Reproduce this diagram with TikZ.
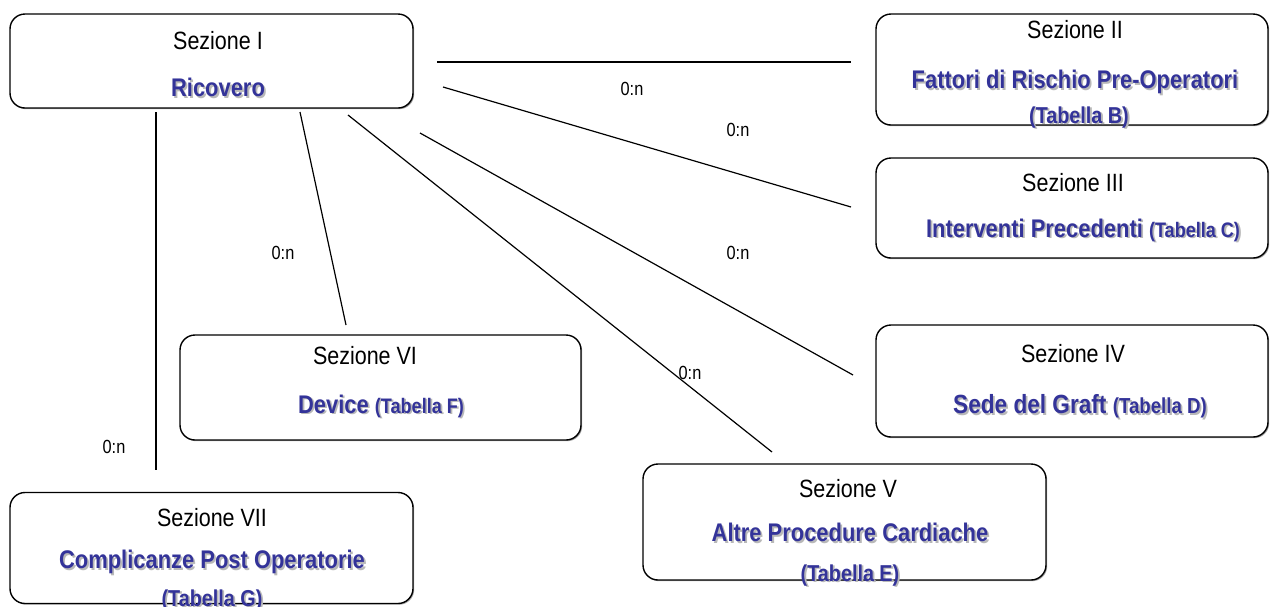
\documentclass[tikz,border=0pt]{standalone}
\usepackage{fontspec}
\usetikzlibrary{shadows}
\setmainfont[FakeStretch=0.86]{Liberation Sans}
\definecolor{titleblue}{HTML}{333399}
\newcommand{\shtxt}[1]{\makebox[0pt][l]{\hspace{1.8pt}\raisebox{-1.8pt}{\color{black!28}#1}}#1}
\newcommand{\smalltab}{\fontsize{21}{24}\selectfont}
\begin{document}
\begin{tikzpicture}[x=1pt,y=-1pt,
  secbox/.style={draw,fill=white,line width=1.4pt,rounded corners=15pt,minimum width=#1,inner sep=0pt,
     drop shadow={shadow xshift=1.2pt,shadow yshift=-1.2pt,fill=black,opacity=0.35}},
  sectitle/.style={font=\fontsize{25}{28}\selectfont,inner sep=0pt},
  tabname/.style={font=\fontsize{25.5}{28}\selectfont\bfseries,text=titleblue,inner sep=0pt},
  tabsmall/.style={font=\fontsize{23}{26}\selectfont\bfseries,text=titleblue,inner sep=0pt},
  card/.style={font=\fontsize{19}{22}\selectfont,inner sep=0pt},
  conn/.style={line width=1.2pt}]
\useasboundingbox (0,0) rectangle (1271,606);
% boxes
\node[secbox=403pt,minimum height=94pt] (b1) at (211.5,61) {};
\node[secbox=392pt,minimum height=111pt] (b2) at (1072,69.5) {};
\node[secbox=392pt,minimum height=100pt] (b3) at (1072,208) {};
\node[secbox=392pt,minimum height=112pt] (b4) at (1072,381) {};
\node[secbox=403pt,minimum height=116pt] (b5) at (844.5,522) {};
\node[secbox=401pt,minimum height=105pt] (b6) at (380.5,387.5) {};
\node[secbox=403pt,minimum height=111pt] (b7) at (211.5,548) {};
% texts
\node[sectitle] (t1) at (218,41) {Sezione I};
\node[tabname] (n1) at (218,88) {\shtxt{Ricovero}};
\node[sectitle] (t2) at (1075,30) {Sezione II};
\node[tabname] (n2) at (1075,83) {\shtxt{Fattori di Rischio Pre-Operatori}};
\node[tabsmall] (s2) at (1079,118) {\shtxt{(Tabella B)}};
\node[sectitle] (t3) at (1073,183) {Sezione III};
\node[tabname] (n3) at (1083,231) {\shtxt{Interventi Precedenti} {\smalltab\shtxt{(Tabella C)}}};
\node[sectitle] (t4) at (1073,354) {Sezione IV};
\node[tabname,font=\fontsize{26.3}{28}\selectfont\bfseries] (n4) at (1080,407) {\shtxt{Sede del Graft} {\fontsize{21.7}{24}\selectfont\shtxt{(Tabella D)}}};
\node[sectitle] (t5) at (848,489) {Sezione V};
\node[tabname] (n5) at (850,533) {\shtxt{Altre Procedure Cardiache}};
\node[tabsmall] (s5) at (850,576) {\shtxt{(Tabella E)}};
\node[sectitle] (t6) at (365,356) {Sezione VI};
\node[tabname] (n6) at (381,407) {\shtxt{Device} {\smalltab\shtxt{(Tabella F)}}};
\node[sectitle] (t7) at (212,518) {Sezione VII};
\node[tabname] (n7) at (212,563) {\shtxt{Complicanze Post Operatorie}};
\node[tabsmall] (s7) at (212,601) {\shtxt{(Tabella G)}};
% connector end points
\coordinate (a1) at (437,62);  \coordinate (e2) at (851,62);
\coordinate (a2) at (443,87);  \coordinate (e3) at (851,207);
\coordinate (a3) at (420,133); \coordinate (e4) at (853,375);
\coordinate (a4) at (348,115); \coordinate (e5) at (772,452);
\coordinate (a5) at (300,112); \coordinate (e6) at (346,325);
\coordinate (a6) at (156,112); \coordinate (e7) at (156,470);
\draw[conn] (a1) -- (e2);
\draw[conn] (a2) -- (e3);
\draw[conn] (a3) -- (e4);
\draw[conn] (a4) -- (e5);
\draw[conn] (a5) -- (e6);
\draw[conn] (a6) -- (e7);
% cardinalities
\node[card] (c2) at (632,89) {0:n};
\node[card] (c3) at (738,130) {0:n};
\node[card] (c4) at (738,253) {0:n};
\node[card] (c5) at (690,373) {0:n};
\node[card] (c6) at (283,253) {0:n};
\node[card] (c7) at (114,447) {0:n};
\end{tikzpicture}
\end{document}
